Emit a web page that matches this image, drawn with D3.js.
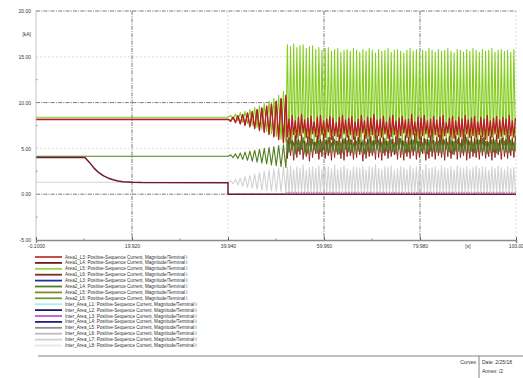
<!DOCTYPE html>
<html>
<head>
<meta charset="utf-8">
<script src="https://cdn.jsdelivr.net/npm/d3@7"></script>
<style>
  html, body { margin: 0; padding: 0; background: #fff; }
  svg { display: block; font-family: "Liberation Sans", Arial, sans-serif; }
</style>
</head>
<body>
<svg id="chart" width="523" height="378"></svg>
<script>
// ---- axis definitions ----
const xTickValues = [-0.1, 19.92, 39.94, 59.96, 79.98, 100];
const xTickLabels = ["-0.1000", "19.920", "39.940", "59.960", "79.980", "100.00"];
const xUnit = "[s]";
const yTickValues = [-5, 0, 5, 10, 15, 20];
const yTickLabels = ["-5.00", "0.00", "5.00", "10.00", "15.00", "20.00"];
const yUnit = "[kA]";

// ---- legend ----
const legendLabels = [
  "Area1_L3: Positive-Sequence Current, Magnitude/Terminal i",
  "Area1_L4: Positive-Sequence Current, Magnitude/Terminal i",
  "Area1_L5: Positive-Sequence Current, Magnitude/Terminal i",
  "Area1_L6: Positive-Sequence Current, Magnitude/Terminal i",
  "Area2_L3: Positive-Sequence Current, Magnitude/Terminal i",
  "Area2_L4: Positive-Sequence Current, Magnitude/Terminal i",
  "Area2_L5: Positive-Sequence Current, Magnitude/Terminal i",
  "Area2_L6: Positive-Sequence Current, Magnitude/Terminal i",
  "Inter_Area_L1: Positive-Sequence Current, Magnitude/Terminal i",
  "Inter_Area_L2: Positive-Sequence Current, Magnitude/Terminal i",
  "Inter_Area_L3: Positive-Sequence Current, Magnitude/Terminal i",
  "Inter_Area_L4: Positive-Sequence Current, Magnitude/Terminal i",
  "Inter_Area_L5: Positive-Sequence Current, Magnitude/Terminal i",
  "Inter_Area_L6: Positive-Sequence Current, Magnitude/Terminal i",
  "Inter_Area_L7: Positive-Sequence Current, Magnitude/Terminal i",
  "Inter_Area_L8: Positive-Sequence Current, Magnitude/Terminal i"
];
const legendColors = [
  "#c23a3a", "#6e1c2a", "#93d63c", "#7f2b2b", "#2c2ca0", "#4f7f22", "#8a8433", "#64a02e",
  "#a9eef0", "#1c1c6a", "#c455d0", "#22227c", "#8f8f8f", "#bdbdbd", "#cfcfcf", "#e6e6e6"
];

// ---- simulation timing ----
const growthStart = 40, growthStep = 0.5;   // growing oscillation samples (extrema)
const chaosStart = 52, chaosStep = 0.328;   // sustained oscillation samples (extrema)

// ---- steady-state segments [time, value] ----
const crimsonSteady = [[-0.1, 8.15], [40, 8.15]];
const greenSteady = [[-0.1, 8.4], [40, 8.4]];
const maroonBSteady = [[-0.1, 8.2], [40, 8.2]];
const darkGreenSteady = [[-0.1, 4.15], [40, 4.15]];
const graySteady = [[-0.1, 1.3], [40, 1.3]];
const maroonTrace = [
  [-0.1, 4.0], [10.1, 4.0], [11.0, 3.5], [12.0, 2.85], [13.0, 2.35], [14.0, 2.0],
  [15.0, 1.75], [16.0, 1.57], [17.0, 1.45], [18.0, 1.37], [20.0, 1.3], [22.0, 1.27],
  [39.94, 1.25], [39.94, 0.0], [100, 0.0]
];
const magentaTrace = [[52, 0.2], [100, 0.2]];

// ---- growing oscillation extrema (t = 40 .. 52) ----
const greenGrowth = [8.4, 8.6, 8.15, 8.75, 8.0, 8.9, 7.85, 9.05, 7.7, 9.25, 7.5, 9.45, 7.3, 9.65, 7.1, 9.9, 6.85, 10.15, 6.6, 10.45, 6.3, 10.8, 6.0, 11.2, 5.7];
const crimsonGrowth = [8.15, 7.95, 8.4, 7.8, 8.55, 7.65, 8.7, 7.5, 8.85, 7.35, 9.0, 7.15, 9.2, 6.95, 9.4, 6.75, 9.6, 6.5, 9.85, 6.25, 10.15, 5.95, 10.45, 5.6, 10.8];
const maroonBGrowth = [8.2, 8.05, 8.45, 7.9, 8.6, 7.75, 8.75, 7.6, 8.9, 7.45, 9.05, 7.25, 9.25, 7.05, 9.45, 6.85, 9.65, 6.6, 9.85, 6.35, 10.1, 6.05, 10.4, 5.7, 10.6];
const darkGreenGrowth = [4.15, 4.3, 4.0, 4.4, 3.9, 4.5, 3.8, 4.6, 3.7, 4.7, 3.6, 4.8, 3.5, 4.9, 3.4, 5.0, 3.3, 5.1, 3.2, 5.2, 3.1, 5.3, 3.0, 5.4, 2.9];
const grayGrowth = [1.3, 1.45, 1.15, 1.6, 1.0, 1.75, 0.85, 1.9, 0.75, 2.05, 0.65, 2.2, 0.55, 2.35, 0.45, 2.5, 0.4, 2.6, 0.35, 2.75, 0.3, 2.85, 0.25, 3.0, 0.2];

// ---- sustained oscillation extrema (t = 52 .. 100), highs and lows ----
const greenHi = [16.3,16.1,16.4,16.0,16.2,16.3,15.9,16.1,16.2,15.8,16.0,15.7,15.9,16.0,15.6,15.8,15.9,15.5,15.7,15.8,15.6,15.9,15.7,15.5,15.8,15.6,15.9,15.7,15.4,15.8,15.6,15.7,15.9,15.5,15.7,15.8,15.6,15.4,15.7,15.9,15.6,15.8,15.5,15.7,15.6,15.9,15.7,15.5,15.8,15.6,15.7,15.9,15.6,15.4,15.8,15.7,15.5,15.8,15.6,15.9,15.7,15.5,15.8,15.6,15.7,15.9,15.5,15.7,15.8,15.6,15.7,15.5,15.8];
const greenLo = [4.6,5.2,4.3,5.8,4.9,4.4,5.5,4.7,5.1,4.5,5.9,4.8,4.4,5.3,4.6,5.7,4.9,4.5,5.2,4.7,5.6,4.4,5.0,4.8,5.4,4.6,5.1,4.5,5.8,4.9,4.7,5.3,4.5,5.0,4.8,5.6,4.4,5.2,4.9,4.6,5.5,4.7,5.0,4.5,5.3,4.8,4.6,5.7,4.9,4.4,5.1,4.8,5.4,4.6,5.0,4.7,5.5,4.5,5.2,4.9,4.6,5.3,4.8,5.0,4.5,5.6,4.7,5.1,4.9,4.6,5.2,4.8,5.0];
const crimsonHi = [8.2,8.6,8.0,8.4,8.7,8.1,8.3,8.5,7.9,8.4,8.6,8.0,8.2,8.5,8.3,7.8,8.4,8.6,8.1,8.3,8.5,7.9,8.2,8.6,8.0,8.4,8.3,8.7,8.1,8.2,8.5,7.9,8.4,8.6,8.0,8.3,8.5,8.1,8.2,8.7,7.9,8.4,8.3,8.6,8.0,8.2,8.5,8.1,8.4,8.6,7.8,8.3,8.5,8.0,8.4,8.2,8.6,8.1,8.3,8.5,7.9,8.4,8.2,8.6,8.0,8.3,8.5,8.1,8.4,8.2,8.6,8.0,8.3];
const crimsonLo = [6.3,6.0,6.5,6.1,6.4,6.7,6.2,6.0,6.6,6.3,6.1,6.5,6.2,6.8,6.0,6.4,6.3,6.1,6.6,6.2,6.5,6.0,6.4,6.2,6.7,6.1,6.3,6.5,6.0,6.4,6.2,6.6,6.1,6.3,6.5,6.0,6.4,6.7,6.2,6.1,6.5,6.3,6.0,6.4,6.6,6.2,6.1,6.5,6.3,6.0,6.4,6.7,6.2,6.1,6.5,6.3,6.0,6.6,6.2,6.4,6.1,6.5,6.3,6.0,6.4,6.2,6.6,6.1,6.3,6.5,6.0,6.4,6.2];
const maroonBHi = [6.2,5.9,6.4,6.0,6.5,5.8,6.3,6.1,5.7,6.4,6.0,6.6,5.9,6.2,6.3,5.8,6.5,6.0,6.1,6.4,5.9,6.3,6.2,5.7,6.5,6.0,6.3,5.9,6.4,6.1,6.2,5.8,6.5,6.0,6.3,6.1,5.9,6.4,6.2,6.0,6.6,5.8,6.3,6.1,6.0,6.4,5.9,6.2,6.5,6.0,6.1,6.3,5.8,6.4,6.2,6.0,6.5,5.9,6.3,6.1,6.0,6.4,6.2,5.8,6.3,6.1,6.5,5.9,6.2,6.0,6.4,6.1,6.3];
const maroonBLo = [3.9,4.2,3.7,4.0,4.3,3.8,4.1,3.6,4.0,4.4,3.8,4.1,3.9,4.2,3.7,4.0,4.3,3.9,3.7,4.1,4.2,3.8,4.0,4.3,3.6,3.9,4.1,4.2,3.8,4.0,3.7,4.2,3.9,4.1,4.3,3.8,4.0,3.7,4.1,3.9,4.2,3.8,4.0,4.4,3.7,3.9,4.1,3.8,4.2,4.0,3.7,4.1,3.9,4.3,3.8,4.0,4.2,3.7,3.9,4.1,4.0,3.8,4.2,3.9,4.1,3.7,4.0,4.3,3.8,4.1,3.9,4.2,4.0];
const darkGreenHi = [5.9,6.1,5.7,6.0,5.8,6.2,5.6,5.9,6.0,5.7,6.1,5.8,5.9,6.2,5.6,6.0,5.8,5.7,6.1,5.9,6.0,5.6,5.8,6.1,5.9,5.7,6.2,5.8,6.0,5.9,5.7,6.1,5.8,6.0,5.6,5.9,6.1,5.8,5.7,6.0,5.9,6.2,5.8,5.6,6.0,5.9,6.1,5.7,5.8,6.0,5.9,5.7,6.1,5.8,6.0,5.6,5.9,6.2,5.8,5.7,6.0,5.9,6.1,5.8,5.7,6.0,5.9,5.6,6.1,5.8,6.0,5.9,5.7];
const darkGreenLo = [4.6,4.8,4.5,4.7,4.9,4.6,4.4,4.7,4.8,4.5,4.6,4.9,4.7,4.5,4.8,4.6,4.4,4.7,4.9,4.6,4.5,4.8,4.7,4.6,4.4,4.8,4.5,4.7,4.9,4.6,4.5,4.7,4.8,4.6,4.4,4.9,4.7,4.5,4.6,4.8,4.7,4.5,4.6,4.9,4.4,4.7,4.8,4.6,4.5,4.7,4.9,4.6,4.4,4.8,4.7,4.5,4.6,4.8,4.7,4.5,4.9,4.6,4.7,4.4,4.8,4.6,4.5,4.7,4.9,4.6,4.5,4.8,4.7];
const grayHi = [2.9,3.1,2.7,3.0,2.8,3.2,2.6,2.9,3.0,2.8,3.1,2.7,2.9,3.0,2.8,3.2,2.7,2.9,3.1,2.8,2.6,3.0,2.9,2.8,3.1,2.7,3.0,2.9,3.2,2.8,2.7,3.0,2.9,3.1,2.6,2.8,3.0,2.9,2.7,3.1,2.8,3.0,2.9,2.7,3.2,2.8,2.9,3.0,2.6,3.1,2.9,2.8,3.0,2.7,3.1,2.9,2.8,3.0,2.7,2.9,3.1,2.8,3.0,2.9,2.6,3.0,2.8,3.1,2.9,2.7,3.0,2.8,2.9];
const grayLo = [0.1,0.2,0.0,0.3,0.1,0.2,0.05,0.25,0.1,0.0,0.2,0.3,0.1,0.15,0.0,0.2,0.1,0.3,0.05,0.2,0.1,0.0,0.25,0.15,0.1,0.2,0.0,0.3,0.1,0.2,0.05,0.15,0.25,0.1,0.0,0.2,0.1,0.3,0.15,0.05,0.2,0.1,0.0,0.25,0.1,0.2,0.3,0.05,0.15,0.1,0.2,0.0,0.1,0.25,0.15,0.05,0.2,0.1,0.3,0.0,0.15,0.2,0.1,0.05,0.25,0.1,0.2,0.0,0.15,0.3,0.1,0.2,0.05];

// ---- layout ----
const svg = d3.select("#chart");
const W = 523, H = 378;
const plot = { left: 36, right: 516, top: 11, bottom: 240 };

const x = d3.scaleLinear().domain([-0.1, 100]).range([plot.left, plot.right]);
const y = d3.scaleLinear().domain([-5, 20]).range([plot.bottom, plot.top]);

svg.append("rect").attr("width", W).attr("height", H).attr("fill", "#fff");

// assemble a trace: steady part, growing part, then alternating extrema
function buildTrace(steady, growth, first, second) {
  const pts = steady.slice();
  growth.forEach((v, i) => pts.push([growthStart + i * growthStep, v]));
  const n = Math.min(first.length, second.length);
  let k = 1;
  for (let i = 0; i < n; i++) {
    pts.push([chaosStart + (k++) * chaosStep, first[i]]);
    pts.push([chaosStart + (k++) * chaosStep, second[i]]);
  }
  return pts;
}

// ---- grid ----
const grid = svg.append("g");
const darkDash = "4,1.2,1,1.2";
[20, 10, 0].forEach(v => grid.append("line")
  .attr("x1", plot.left).attr("x2", plot.right).attr("y1", y(v)).attr("y2", y(v))
  .attr("stroke", "#555").attr("stroke-width", 0.8).attr("stroke-dasharray", darkDash));
[15, 5].forEach(v => grid.append("line")
  .attr("x1", plot.left).attr("x2", plot.right).attr("y1", y(v)).attr("y2", y(v))
  .attr("stroke", "#d6d6d6").attr("stroke-width", 0.8).attr("stroke-dasharray", "2,2"));
[19.92, 59.96, 79.98].forEach(v => grid.append("line")
  .attr("x1", x(v)).attr("x2", x(v)).attr("y1", plot.top).attr("y2", plot.bottom)
  .attr("stroke", "#555").attr("stroke-width", 0.8).attr("stroke-dasharray", darkDash));
[39.94, 100].forEach(v => grid.append("line")
  .attr("x1", x(v)).attr("x2", x(v)).attr("y1", plot.top).attr("y2", plot.bottom)
  .attr("stroke", "#cfcfcf").attr("stroke-width", 0.8).attr("stroke-dasharray", "2,2"));

// ---- traces ----
svg.append("clipPath").attr("id", "plotClip").append("rect")
  .attr("x", plot.left).attr("y", plot.top - 2)
  .attr("width", plot.right - plot.left).attr("height", plot.bottom - plot.top + 2);

const traces = [
  { color: "#d2d2d2", width: 1.1, pts: buildTrace(graySteady, grayGrowth, grayHi, grayLo) },
  { color: "#84cc1e", width: 1.1, pts: buildTrace(greenSteady, greenGrowth, greenHi, greenLo) },
  { color: "#8b1a1a", width: 0.9, pts: buildTrace(maroonBSteady, maroonBGrowth, maroonBLo, maroonBHi) },
  { color: "#b81e26", width: 1.3, pts: buildTrace(crimsonSteady, crimsonGrowth, crimsonLo, crimsonHi) },
  { color: "#4f7f22", width: 1.1, pts: buildTrace(darkGreenSteady, darkGreenGrowth, darkGreenHi, darkGreenLo) },
  { color: "#6e1c2a", width: 1.5, pts: maroonTrace },
  { color: "#c455d0", width: 0.9, pts: magentaTrace, dash: "1.5,1" }
];

const line = d3.line().x(d => x(d[0])).y(d => y(d[1]));
const traceG = svg.append("g").attr("clip-path", "url(#plotClip)");
traces.forEach(t => traceG.append("path")
  .attr("d", line(t.pts))
  .attr("fill", "none")
  .attr("stroke", t.color)
  .attr("stroke-width", t.width)
  .attr("stroke-linejoin", "round")
  .attr("stroke-dasharray", t.dash || null));

// ---- axes ----
const axisG = svg.append("g");
axisG.append("line").attr("x1", plot.left).attr("x2", plot.left)
  .attr("y1", plot.top).attr("y2", plot.bottom).attr("stroke", "#b5b5b5").attr("stroke-width", 0.8);

const xAxis = d3.axisBottom(x).tickValues(xTickValues)
  .tickFormat((d, i) => xTickLabels[i]).tickSize(3).tickPadding(1);
const xg = svg.append("g").attr("transform", `translate(0,${plot.bottom})`).call(xAxis);
xg.select(".domain").attr("stroke", "#8a8a8a").attr("stroke-width", 1.6);
xg.selectAll(".tick line").attr("stroke", "#666").attr("y1", -3).attr("y2", 0);
xg.selectAll(".tick text").attr("font-size", 5).attr("fill", "#333").attr("font-family", "Liberation Sans, Arial, sans-serif");
svg.append("text").attr("x", x(89.99)).attr("y", plot.bottom + 8)
  .attr("text-anchor", "middle").attr("font-size", 5).attr("fill", "#333").text(xUnit);

const yAxis = d3.axisLeft(y).tickValues(yTickValues)
  .tickFormat((d, i) => yTickLabels[i]).tickSize(0).tickPadding(5);
const yg = svg.append("g").attr("transform", `translate(${plot.left},0)`).call(yAxis);
yg.select(".domain").remove();
yg.selectAll(".tick text").attr("font-size", 5).attr("fill", "#333").attr("font-family", "Liberation Sans, Arial, sans-serif");
svg.append("text").attr("x", plot.left - 5).attr("y", y(17.5)).attr("dy", "0.32em")
  .attr("text-anchor", "end").attr("font-size", 5).attr("fill", "#333").text(yUnit);

// minor ticks
[12.5, 7.5, 2.5, -2.5].forEach(v => svg.append("line")
  .attr("x1", plot.left).attr("x2", plot.left + 1.5).attr("y1", y(v)).attr("y2", y(v))
  .attr("stroke", "#777").attr("stroke-width", 0.8));
[9.91, 29.93, 49.95, 69.97].forEach(v => svg.append("line")
  .attr("x1", x(v)).attr("x2", x(v)).attr("y1", plot.bottom - 1.5).attr("y2", plot.bottom)
  .attr("stroke", "#777").attr("stroke-width", 0.8));

// ---- legend ----
const legend = svg.append("g");
legendLabels.forEach((label, i) => {
  const ly = 257 + i * 5.9;
  legend.append("line").attr("x1", 35).attr("x2", 62).attr("y1", ly).attr("y2", ly)
    .attr("stroke", legendColors[i]).attr("stroke-width", 1.8);
  legend.append("text").attr("x", 65).attr("y", ly).attr("dy", "0.33em")
    .attr("font-size", 4.6).attr("fill", "#333").text(label);
});

// ---- footer ----
svg.append("line").attr("x1", 38).attr("x2", W).attr("y1", 356).attr("y2", 356)
  .attr("stroke", "#666").attr("stroke-width", 0.8);
svg.append("line").attr("x1", 479).attr("x2", 479).attr("y1", 356).attr("y2", H)
  .attr("stroke", "#666").attr("stroke-width", 0.8);
svg.append("text").attr("x", 476).attr("y", 364).attr("text-anchor", "end")
  .attr("font-size", 5).attr("fill", "#333").text("Curves");
svg.append("text").attr("x", 482).attr("y", 364)
  .attr("font-size", 5).attr("fill", "#333").text("Date: 2/25/18");
svg.append("text").attr("x", 482).attr("y", 373)
  .attr("font-size", 5).attr("fill", "#333").text("Annex:   /2");
</script>
</body>
</html>
